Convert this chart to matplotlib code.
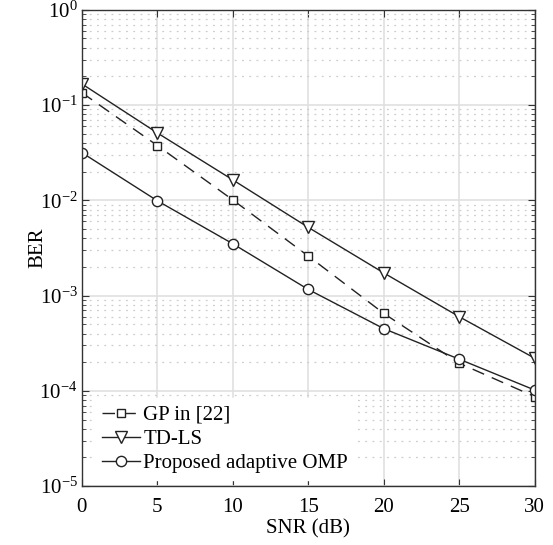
import matplotlib
matplotlib.use('Agg')
import matplotlib.pyplot as plt
from matplotlib.ticker import LogLocator, NullFormatter, MultipleLocator

plt.rcParams['font.family'] = 'Liberation Serif'
plt.rcParams['mathtext.fontset'] = 'custom'
plt.rcParams['mathtext.rm'] = 'Liberation Serif'
plt.rcParams['mathtext.it'] = 'Liberation Serif:italic'
plt.rcParams['xtick.direction'] = 'in'
plt.rcParams['ytick.direction'] = 'in'

# data
snr = [0, 5, 10, 15, 20, 25, 30]
ber_gp = [0.135, 0.0376, 0.0101, 0.0026, 0.00065, 0.000195, 0.000087]
ber_tdls = [0.167, 0.051, 0.0164, 0.0052, 0.00173, 0.0006, 0.00022]
ber_omp = [0.0317, 0.0099, 0.0035, 0.00116, 0.00045, 0.000215, 0.000102]

fig = plt.figure(figsize=(5.53, 5.45), dpi=100, facecolor='white')
ax = fig.add_axes([0.148, 0.108, 0.819, 0.874])

lc = '#222222'
ax.semilogy(snr, ber_gp, color=lc, lw=1.0, linestyle=(0, (9, 6)), marker='s',
            ms=6.2, mfc='white', mec=lc, mew=1.0, label='GP in [22]')
ax.semilogy(snr, ber_tdls, color=lc, lw=1.0, marker='v', ms=9,
            mfc='white', mec=lc, mew=1.0, label='TD-LS')
ax.semilogy(snr, ber_omp, color=lc, lw=1.0, marker='o', ms=7.4,
            mfc='white', mec=lc, mew=1.0, label='Proposed adaptive OMP')

ax.set_xlim(0, 30)
ax.set_ylim(1e-5, 1e0)
ax.xaxis.set_major_locator(MultipleLocator(5))
ax.yaxis.set_major_locator(LogLocator(base=10, numticks=10))
ax.yaxis.set_minor_locator(LogLocator(base=10, subs=range(2, 10), numticks=20))
ax.yaxis.set_minor_formatter(NullFormatter())

ax.grid(True, which='major', color='#e0e0e0', linestyle='-', linewidth=1.2)
ax.grid(True, which='minor', axis='y', color='#cdcdcd', linestyle=(0, (1.5, 4.3)), linewidth=0.9)
ax.set_axisbelow(True)

ax.tick_params(which='both', top=True, right=True, labelsize=15, color='#333333')
ax.tick_params(which='major', length=5)
ax.tick_params(which='minor', length=3)
ax.tick_params(axis='x', pad=8.5)
ax.tick_params(axis='y', pad=3)
for s in ax.spines.values():
    s.set_color('#333333')
    s.set_linewidth(1.0)

ax.set_xlabel('SNR (dB)', fontsize=15, labelpad=2)
ax.set_ylabel('BER', fontsize=15)
ax.yaxis.set_label_coords(-0.076, 0.5)

leg = ax.legend(loc='lower left', bbox_to_anchor=(0.028, 0.012), fontsize=15,
                frameon=True, fancybox=False, edgecolor='white', framealpha=1.0,
                handlelength=1.85, handletextpad=0.15, labelspacing=0.22,
                borderpad=0.35, borderaxespad=0.0)

fig.savefig('out.png', dpi=100, facecolor='white')
